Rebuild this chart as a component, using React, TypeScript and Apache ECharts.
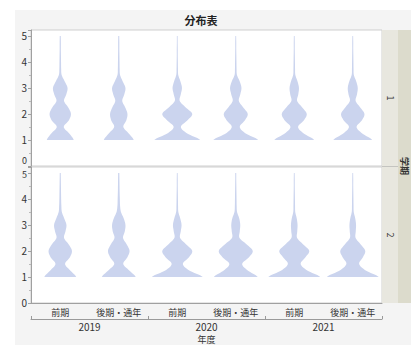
import React, { useEffect, useRef } from "react";
import * as echarts from "echarts";

// categories
const categories = ["前期", "後期・通年", "前期", "後期・通年", "前期", "後期・通年"];
const years = ["2019", "2020", "2021"];
const facetLabels = ["1", "2"];
const yTicks = [0, 1, 2, 3, 4, 5];

// density levels (rating values)
const levels = [1, 1.25, 1.5, 1.75, 2, 2.25, 2.5, 2.75, 3, 3.25, 3.5, 3.75, 4, 4.25, 4.5, 4.75, 5];

// half-widths (relative density) – term 1
const t1_2019_first = [13.5, 9, 3.5, 8.5, 10.7, 8, 3.8, 6, 7.3, 4.5, 1.4, 0.9, 0.8, 0.7, 0.6, 0.6, 0.5];
const t1_2019_second = [15, 10, 4.6, 7.5, 8.7, 6.5, 3.5, 5.5, 6.7, 4, 1.3, 0.9, 0.8, 0.7, 0.6, 0.6, 0.5];
const t1_2020_first = [23, 10, 3.6, 10, 15, 8.5, 2.5, 3.5, 4.7, 3.2, 1.0, 0.7, 0.6, 0.5, 0.5, 0.4, 0.4];
const t1_2020_second = [22.5, 10, 4, 9, 12, 7.5, 3.1, 4.5, 5.7, 4, 1.2, 0.8, 0.7, 0.6, 0.5, 0.5, 0.4];
const t1_2021_first = [20, 9.5, 3.8, 9.5, 12.5, 8, 2.9, 4, 4.7, 3.3, 1.1, 0.8, 0.7, 0.6, 0.5, 0.5, 0.4];
const t1_2021_second = [19.5, 9.5, 3.8, 9, 11.7, 7.5, 2.9, 4.2, 5, 3.5, 1.1, 0.8, 0.7, 0.6, 0.5, 0.5, 0.4];

// term 2
const t2_2019_first = [16, 10, 4.8, 9.5, 11.7, 8.5, 3.8, 5.2, 6.2, 4, 1.6, 1.1, 0.9, 0.8, 0.7, 0.6, 0.5];
const t2_2019_second = [17, 10.5, 4.5, 8.5, 10.8, 8, 4.3, 6, 6.7, 5, 2.2, 1.3, 1.1, 0.9, 0.8, 0.7, 0.6];
const t2_2020_first = [25.5, 12, 5.6, 11.5, 15, 9, 2.9, 3.5, 4.3, 3, 1.1, 0.8, 0.7, 0.6, 0.5, 0.5, 0.4];
const t2_2020_second = [22, 12, 6.4, 13, 17, 11, 3.8, 4, 4.5, 3.5, 1.3, 0.9, 0.8, 0.7, 0.6, 0.5, 0.5];
const t2_2021_first = [26, 13, 6.4, 11, 15, 9, 2.9, 3, 3.3, 2.5, 1, 0.8, 0.7, 0.6, 0.5, 0.5, 0.4];
const t2_2021_second = [26, 13, 6.4, 10, 12.5, 8, 2.9, 3, 3.3, 2.5, 1, 0.8, 0.7, 0.6, 0.5, 0.5, 0.4];

const term1 = [t1_2019_first, t1_2019_second, t1_2020_first, t1_2020_second, t1_2021_first, t1_2021_second];
const term2 = [t2_2019_first, t2_2019_second, t2_2020_first, t2_2020_second, t2_2021_first, t2_2021_second];

const FONT = "'Noto Sans CJK JP', 'Noto Sans', sans-serif";
const VIOLIN = "#cbd4ee";
const REF_BAND = 58.5;

function smoothWidths(w: number[]) {
  const out: { v: number; w: number }[] = [];
  const n = w.length;
  const steps = 8;
  for (let i = 0; i < n - 1; i++) {
    const p0 = w[Math.max(i - 1, 0)];
    const p1 = w[i];
    const p2 = w[i + 1];
    const p3 = w[Math.min(i + 2, n - 1)];
    for (let s = 0; s < steps; s++) {
      const t = s / steps;
      const val =
        0.5 *
        (2 * p1 +
          (-p0 + p2) * t +
          (2 * p0 - 5 * p1 + 4 * p2 - p3) * t * t +
          (-p0 + 3 * p1 - 3 * p2 + p3) * t * t * t);
      out.push({ v: levels[i] + (levels[i + 1] - levels[i]) * t, w: Math.max(val, 0.3) });
    }
  }
  out.push({ v: levels[n - 1], w: Math.max(w[n - 1], 0.3) });
  return out;
}

function makeRender(profiles: number[][]) {
  return (params: any, api: any) => {
    const cat = api.value(0);
    const idx = api.value(1);
    const band = api.size([1, 0])[0];
    const scale = band / REF_BAND;
    const prof = smoothWidths(profiles[idx]);
    const right: number[][] = [];
    const left: number[][] = [];
    for (const p of prof) {
      const c = api.coord([cat, p.v]);
      right.push([c[0] + p.w * scale, c[1]]);
      left.push([c[0] - p.w * scale, c[1]]);
    }
    const points = right.concat(left.reverse());
    return {
      type: "polygon",
      shape: { points },
      style: { fill: VIOLIN, stroke: null },
    };
  };
}

export default function App() {
  const ref = useRef<HTMLDivElement>(null);
  useEffect(() => {
    document.body.style.margin = "0";
    if (!ref.current) return;
    const chart = echarts.init(ref.current, undefined, { renderer: "svg" });
    const yAxisCommon = (gridIndex: number) => ({
      gridIndex,
      type: "value",
      min: 0,
      max: 5.23,
      interval: 1,
      axisLine: { show: true, lineStyle: { color: "#a0a0a0" } },
      axisTick: { show: true, length: 3, lineStyle: { color: "#a0a0a0" } },
      minorTick: { show: true, splitNumber: 2, length: 2, lineStyle: { color: "#b8b8b8" } },
      splitLine: { show: false },
      axisLabel: {
        fontSize: 10,
        color: "#333",
        margin: 4,
        fontFamily: FONT,
        formatter: (v: number) => {
          if (yTicks.indexOf(v) < 0) return "";
          // the two labels meeting at the panel seam are drawn as graphic texts
          if (gridIndex === 0 && v === yTicks[0]) return "";
          if (gridIndex === 1 && v === yTicks[yTicks.length - 1]) return "";
          return String(v);
        },
      },
    });
    const option: any = {
      animation: false,
      backgroundColor: "#f4f4f4",
      textStyle: { fontFamily: FONT },
      grid: [
        { left: 31, right: 29, top: 30, height: 136, show: true, backgroundColor: "#fff", borderColor: "#cfcfcf", borderWidth: 1 },
        { left: 31, right: 29, top: 167, height: 136, show: true, backgroundColor: "#fff", borderColor: "#cfcfcf", borderWidth: 1 },
      ],
      xAxis: [
        { gridIndex: 0, type: "category", data: categories, show: false },
        {
          gridIndex: 1,
          type: "category",
          data: categories,
          axisLine: { lineStyle: { color: "#a0a0a0" } },
          axisTick: { show: false },
          axisLabel: { fontSize: 9, color: "#333", margin: 5, fontFamily: FONT, interval: 0 },
        },
        {
          gridIndex: 1,
          type: "category",
          data: years,
          position: "bottom",
          offset: 16,
          axisLine: { show: true, lineStyle: { color: "#9a9a9a" } },
          axisTick: { show: true, inside: true, length: 3, lineStyle: { color: "#9a9a9a" } },
          axisLabel: { fontSize: 10, color: "#333", margin: 3, fontFamily: FONT },
          name: "年度",
          nameLocation: "middle",
          nameGap: 16,
          nameTextStyle: { fontSize: 9, color: "#333", fontFamily: FONT },
        },
      ],
      yAxis: [yAxisCommon(0), yAxisCommon(1)],
      graphic: [
        { type: "rect", shape: { x: 0, y: 0, width: 411, height: 10 }, style: { fill: "#fff" }, z: 1 },
        { type: "rect", shape: { x: 0, y: 0, width: 15, height: 345 }, style: { fill: "#fff" }, z: 1 },
        {
          type: "text",
          x: 201,
          y: 20,
          style: { text: "分布表", align: "center", verticalAlign: "middle", font: `bold 11px ${FONT}`, fill: "#222" },
        },
        {
          type: "text",
          x: 27,
          y: 160,
          style: { text: String(yTicks[0]), align: "right", verticalAlign: "middle", font: `9px ${FONT}`, fill: "#333" },
        },
        {
          type: "text",
          x: 27,
          y: 174.5,
          style: { text: String(yTicks[yTicks.length - 1]), align: "right", verticalAlign: "middle", font: `9px ${FONT}`, fill: "#333" },
        },
        { type: "rect", shape: { x: 382, y: 30, width: 16, height: 273 }, style: { fill: "#e8e7df" } },
        { type: "rect", shape: { x: 398, y: 30, width: 13, height: 273 }, style: { fill: "#dcdbcc" } },
        { type: "line", shape: { x1: 382, y1: 166.5, x2: 398, y2: 166.5 }, style: { stroke: "#c4c4c0", lineWidth: 1 } },
        {
          type: "text",
          x: 390,
          y: 98,
          rotation: -Math.PI / 2,
          style: { text: facetLabels[0], align: "center", verticalAlign: "middle", font: `9px ${FONT}`, fill: "#333" },
        },
        {
          type: "text",
          x: 390,
          y: 235,
          rotation: -Math.PI / 2,
          style: { text: facetLabels[1], align: "center", verticalAlign: "middle", font: `9px ${FONT}`, fill: "#333" },
        },
        {
          type: "text",
          x: 404,
          y: 166,
          rotation: -Math.PI / 2,
          style: { text: "学期", align: "center", verticalAlign: "middle", font: `bold 9px ${FONT}`, fill: "#333" },
        },
      ],
      series: [
        {
          type: "custom",
          xAxisIndex: 0,
          yAxisIndex: 0,
          renderItem: makeRender(term1),
          encode: { x: 0 },
          data: term1.map((_, i) => [i, i]),
          silent: true,
        },
        {
          type: "custom",
          xAxisIndex: 1,
          yAxisIndex: 1,
          renderItem: makeRender(term2),
          encode: { x: 0 },
          data: term2.map((_, i) => [i, i]),
          silent: true,
        },
      ],
    };
    chart.setOption(option);
    return () => chart.dispose();
  }, []);
  return <div ref={ref} style={{ width: 411, height: 345 }} />;
}
